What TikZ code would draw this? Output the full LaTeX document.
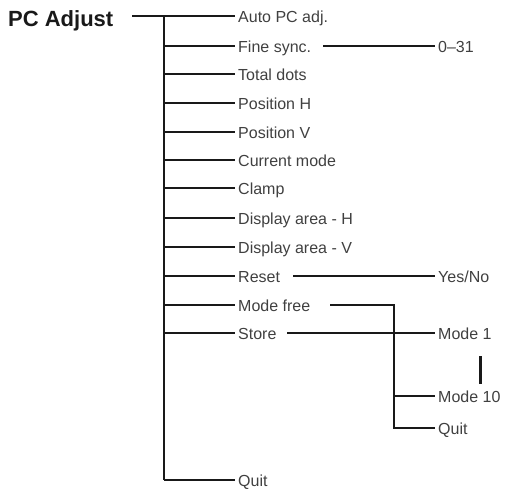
\documentclass[tikz,border=0pt]{standalone}
\usepackage{fontspec}
\setmainfont{Liberation Sans}
\begin{document}
\begin{tikzpicture}[x=1pt,y=-1pt,
  lbl/.style={anchor=base west,inner xsep=3pt,inner ysep=0pt,font=\fontsize{16}{18}\selectfont,text=black!75},
  ln/.style={line width=1.5pt,black!90},
  lnb/.style={line width=2.3pt,black!90},
  trunk/.style={line width=2.1pt,black!90}]
\useasboundingbox (0,0) rectangle (509,493);
% title
\node[anchor=base west,inner sep=0pt,font=\fontsize{22}{25}\bfseries\selectfont,text=black!90] (pc) at (8,26) {PC Adjust};
% menu items
\newcommand\itm[3]{\node[lbl] (#1) at (235,#2+6.5) {#3};\coordinate (j#1) at (164,#2);}
\itm{auto}{16}{Auto PC adj.}
\itm{fine}{46}{Fine sync.}
\itm{total}{74}{Total dots}
\itm{posh}{103}{Position H}
\itm{posv}{132}{Position V}
\itm{curr}{160}{Current mode}
\itm{clamp}{188}{Clamp}
\itm{dah}{218}{Display area - H}
\itm{dav}{247}{Display area - V}
\itm{reset}{276}{Reset}
\itm{mfree}{305}{Mode free}
\itm{store}{333}{Store}
\itm{quit}{480}{Quit}
% sub items
\node[lbl] (r031) at (435,46+6.5) {0--31};
\node[lbl] (yesno) at (435,276+6.5) {Yes/No};
\node[lbl] (m1) at (435,333+6.5) {Mode 1};
\node[lbl] (m10) at (435,396+6.5) {Mode 10};
\node[lbl] (q2) at (435,428+6.5) {Quit};
% coordinates
\coordinate (pcr) at (132,16);
\coordinate (fs) at (323,46);
\coordinate (rs) at (293,276);
\coordinate (ms) at (330,305);
\coordinate (ss) at (287,333);
\coordinate (vx) at (394,305);
\coordinate (j10) at (394,396);
\coordinate (jq) at (394,428);
\coordinate (bt) at (480,356);
\coordinate (bb) at (480,384);
% trunk
\draw[trunk] (jauto) -- (jquit);
\draw[ln] (pcr) -- (jauto -| auto.west);
\foreach \n in {fine,posh,posv,clamp,dah,reset,mfree,quit}
  \draw[ln] (j\n) -- (j\n -| \n.west);
\foreach \n in {total,curr,dav,store}
  \draw[lnb] (j\n) -- (j\n -| \n.west);
% sub connectors
\draw[ln] (fs) -- (fs -| r031.west);
\draw[ln] (rs) -- (rs -| yesno.west);
\draw[lnb] (ss) -- (ss -| m1.west);
\draw[ln] (ms) -- (vx) -- (jq) -- (jq -| q2.west);
\draw[ln] (j10) -- (j10 -| m10.west);
\draw[line width=3pt,black!90] (bt) -- (bb);
\end{tikzpicture}
\end{document}
